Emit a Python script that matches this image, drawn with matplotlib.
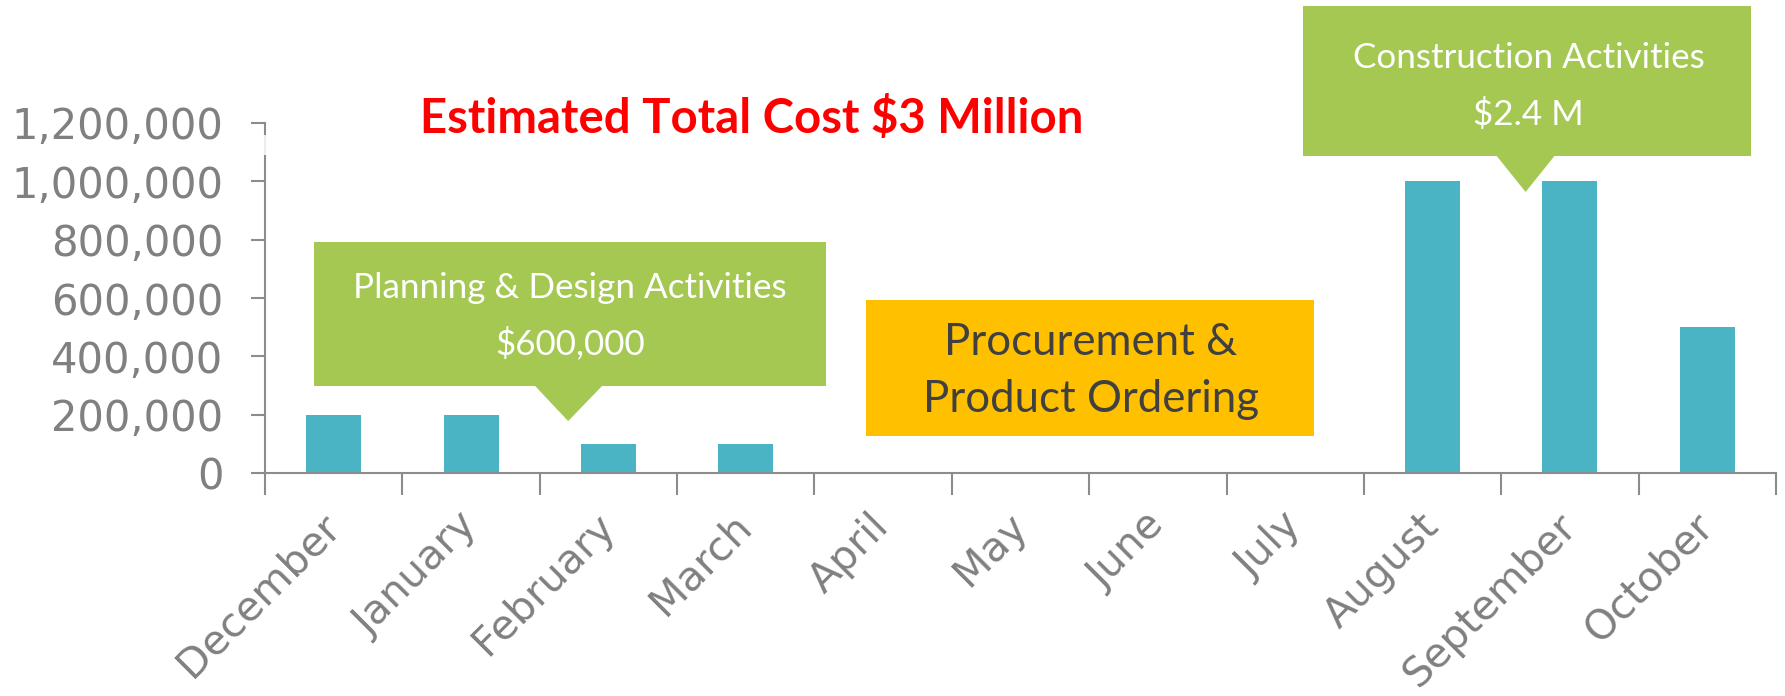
import numpy as np
import matplotlib
matplotlib.use('Agg')
import matplotlib.pyplot as plt
from matplotlib.patches import Rectangle, Polygon
from matplotlib.ticker import FuncFormatter

## monthly spend
months = ['December', 'January', 'February', 'March', 'April', 'May',
          'June', 'July', 'August', 'September', 'October']
costs = [200000, 200000, 100000, 100000, 0, 0, 0, 0, 1000000, 1000000, 500000]
y_ticks = [0, 200000, 400000, 600000, 800000, 1000000, 1200000]

title_text = 'Estimated Total Cost $3 Million'
planning_text = ['Planning & Design Activities', '$600,000']
procurement_text = ['Procurement &', 'Product Ordering']
construction_text = ['Construction Activities', '$2.4 M']

## colours
bar_color = '#4BB4C4'
green = '#A4C852'
yellow = '#FFC000'
axis_grey = '#8C8C8C'
label_grey = '#808080'

W, H = 1785, 696
fig = plt.figure(figsize=(W / 100., H / 100.), dpi=100)
ax = fig.add_axes([265. / W, (H - 473.) / H, (1776. - 265.) / W, (473. - 123.) / H])

x = np.arange(len(months))
ax.bar(x, costs, 0.4, color=bar_color, zorder=2)

ax.set_xlim(-0.5, len(months) - 0.5)
ax.set_ylim(0, 1200000)

# boundaries get the tick marks, centres get the labels
ax.set_xticks(np.arange(-0.5, len(months), 1))
ax.set_xticklabels([])
ax.set_xticks(x, minor=True)
ax.set_xticklabels(months, minor=True, rotation=45, ha='right', va='center',
                   rotation_mode='anchor', fontsize=29.5, color=label_grey,
                   family='DejaVu Sans')
ax.tick_params(axis='x', which='major', length=16, width=1.5, color=axis_grey, direction='out')
ax.tick_params(axis='x', which='minor', length=0, pad=34)

ax.set_yticks(y_ticks)
ax.yaxis.set_major_formatter(FuncFormatter(lambda v, p: format(int(v), ',')))
ax.tick_params(axis='y', length=10, width=1.5, color=axis_grey, pad=20,
               labelsize=30, labelcolor=label_grey)
for lab in ax.get_yticklabels():
    lab.set_family('DejaVu Sans')

for s in ['top', 'right']:
    ax.spines[s].set_visible(False)
for s in ['left', 'bottom']:
    ax.spines[s].set_color(axis_grey)
    ax.spines[s].set_linewidth(1.5)

# break in the axis line just under the top tick
ax.add_patch(Rectangle((-0.56, 1090000), 0.12, 70000, transform=ax.transData,
                       facecolor='white', edgecolor='none', alpha=0.85,
                       clip_on=False, zorder=5))

## title
ax.text(3.04, 1217000, title_text, ha='center', va='center', color='#FF0000',
        fontsize=34, fontweight='bold', family='Lato', clip_on=False)

## planning callout
ax.add_patch(Rectangle((-0.143, 298000), 3.729, 494000, facecolor=green,
                       edgecolor='none', clip_on=False, zorder=3))
ax.add_patch(Polygon([(1.466, 298500), (1.954, 298500), (1.707, 178000)], closed=True,
                     facecolor=green, edgecolor='none', clip_on=False, zorder=3))
ax.text(1.72, 601000, planning_text[0], ha='center', va='baseline', color='white',
        fontsize=25.2, family='Lato', zorder=4)
ax.text(1.72, 408000, planning_text[1], ha='center', va='baseline', color='white',
        fontsize=25.2, family='Lato', zorder=4)

## procurement box
ax.add_patch(Rectangle((3.877, 127000), 3.263, 466000, facecolor=yellow,
                       edgecolor='none', clip_on=False, zorder=3))
ax.text(5.51, 405000, procurement_text[0], ha='center', va='baseline', color='#404040',
        fontsize=31.5, family='Lato', zorder=4)
ax.text(5.51, 209000, procurement_text[1], ha='center', va='baseline', color='#404040',
        fontsize=31.5, family='Lato', zorder=4)

## construction callout
ax.add_patch(Rectangle((7.060, 1087000), 3.256, 514000, facecolor=green,
                       edgecolor='none', clip_on=False, zorder=3))
ax.add_patch(Polygon([(8.466, 1087500), (8.888, 1087500), (8.677, 963500)], closed=True,
                     facecolor=green, edgecolor='none', clip_on=False, zorder=3))
ax.text(8.70, 1389000, construction_text[0], ha='center', va='baseline', color='white',
        fontsize=25.2, family='Lato', zorder=4, clip_on=False)
ax.text(8.70, 1193000, construction_text[1], ha='center', va='baseline', color='white',
        fontsize=25.2, family='Lato', zorder=4, clip_on=False)

plt.savefig('out.png', dpi=100)
